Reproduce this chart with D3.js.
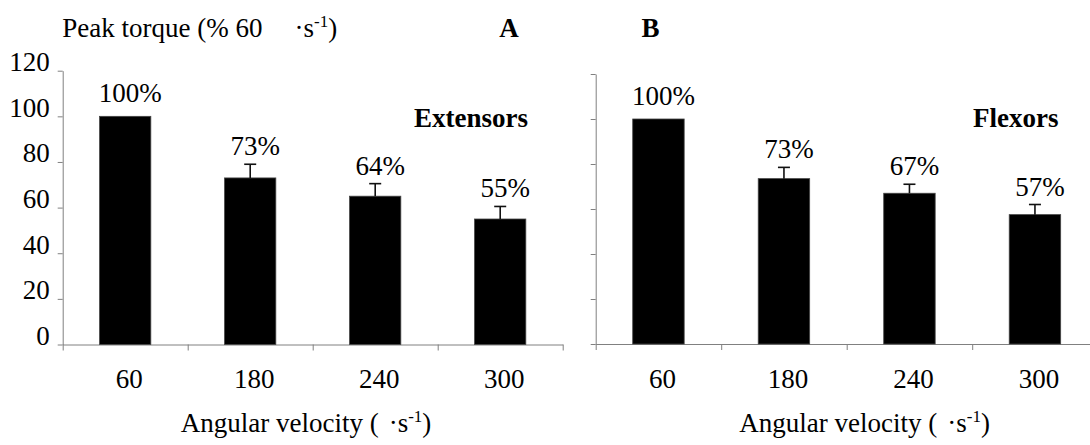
<!DOCTYPE html>
<html>
<head>
<meta charset="utf-8">
<script src="https://cdn.jsdelivr.net/npm/d3@7"></script>
<style>
  html, body { margin: 0; padding: 0; background: #fff; }
  svg text { font-family: "Liberation Serif", "DejaVu Serif", serif; }
</style>
</head>
<body>
<svg id="chart"></svg>
<script>
// data
const categories     = ["60", "180", "240", "300"];
const extensorMeans  = [100, 73, 65, 55];
const extensorSD     = [0, 6, 5.5, 5.5];
const extensorLabels = ["100%", "73%", "64%", "55%"];
const flexorMeans    = [100, 73.5, 67, 57.5];
const flexorSD       = [0, 5, 4, 4.5];
const flexorLabels   = ["100%", "73%", "67%", "57%"];
const yTicks         = [0, 20, 40, 60, 80, 100, 120];

const width = 1090, height = 445;
const fontSize = 27;
const serif = "'Liberation Serif', 'DejaVu Serif', serif";
const axisColor = "#808080";

const svg = d3.select("#chart")
  .attr("width", width)
  .attr("height", height);

const panels = [
  { letter: "A", muscle: "Extensors", means: extensorMeans, sd: extensorSD, labels: extensorLabels,
    left: 62.7, right: 562.7, top: 70.7, bottom: 344.5, showY: true,
    letterX: 509, muscleX: 528, xTitleX: 306 },
  { letter: "B", muscle: "Flexors", means: flexorMeans, sd: flexorSD, labels: flexorLabels,
    left: 595.7, right: 1097.7, top: 74, bottom: 344, showY: false,
    letterX: 650.5, muscleX: 1058.6, xTitleX: 864.6 }
];

panels.forEach(p => {
  const g = svg.append("g");

  const x = d3.scaleBand()
    .domain(categories)
    .range([p.left, p.right])
    .paddingInner(0.59)
    .paddingOuter(0.295);

  // boundaries for tick marks between categories
  const xEdge = d3.scaleLinear()
    .domain([0, categories.length])
    .range([p.left, p.right]);

  const y = d3.scaleLinear()
    .domain([0, 120])
    .range([p.bottom, p.top]);

  // y axis
  const yAxis = d3.axisLeft(y)
    .tickValues(yTicks)
    .tickSize(5)
    .tickSizeOuter(0)
    .tickPadding(8)
    .tickFormat(p.showY ? d3.format("d") : "");
  const ya = g.append("g")
    .attr("transform", `translate(${p.left},0)`)
    .call(yAxis)
    .attr("font-family", serif)
    .attr("font-size", fontSize);
  ya.selectAll("path, line").attr("stroke", axisColor);
  ya.selectAll("text")
    .attr("dy", 0)
    .attr("fill", "#000");

  // x axis tick marks at category boundaries
  const xa = g.append("g")
    .attr("transform", `translate(0,${p.bottom})`)
    .call(d3.axisBottom(xEdge).ticks(categories.length).tickSize(6).tickSizeOuter(0).tickFormat(""));
  xa.selectAll("path, line").attr("stroke", axisColor);

  // x category labels
  const xl = g.append("g")
    .attr("transform", `translate(4,${p.bottom})`)
    .call(d3.axisBottom(x).tickSize(0).tickPadding(0))
    .attr("font-family", serif)
    .attr("font-size", fontSize);
  xl.select(".domain").remove();
  xl.selectAll("text")
    .attr("y", 43.5)
    .attr("dy", 0)
    .attr("fill", "#000");

  // bars
  g.selectAll(".bar")
    .data(categories)
    .join("rect")
    .attr("class", "bar")
    .attr("x", (d) => x(d))
    .attr("width", x.bandwidth())
    .attr("y", (d, i) => y(p.means[i]))
    .attr("height", (d, i) => y(0) - y(p.means[i]))
    .attr("fill", "#000")
    .attr("stroke", "#444")
    .attr("stroke-width", 0.8);

  // error bars (upper only)
  const errs = categories.map((c, i) => ({ c, m: p.means[i], s: p.sd[i] })).filter(d => d.s > 0);
  g.selectAll(".err")
    .data(errs)
    .join("line")
    .attr("class", "err")
    .attr("x1", d => x(d.c) + x.bandwidth() / 2)
    .attr("x2", d => x(d.c) + x.bandwidth() / 2)
    .attr("y1", d => y(d.m))
    .attr("y2", d => y(d.m + d.s))
    .attr("stroke", "#111")
    .attr("stroke-width", 1.6);
  g.selectAll(".cap")
    .data(errs)
    .join("line")
    .attr("class", "cap")
    .attr("x1", d => x(d.c) + x.bandwidth() / 2 - 6)
    .attr("x2", d => x(d.c) + x.bandwidth() / 2 + 6)
    .attr("y1", d => y(d.m + d.s))
    .attr("y2", d => y(d.m + d.s))
    .attr("stroke", "#111")
    .attr("stroke-width", 1.6);

  // percentage labels
  g.selectAll(".pct")
    .data(categories)
    .join("text")
    .attr("class", "pct")
    .attr("x", (d) => x(d) + x.bandwidth() / 2 + 5)
    .attr("y", (d, i) => y(p.means[i] + p.sd[i]) - (p.sd[i] > 0 ? 9 : 14))
    .attr("text-anchor", "middle")
    .style("font-size", fontSize + "px")
    .text((d, i) => p.labels[i]);

  // panel letter
  g.append("text")
    .attr("x", p.letterX)
    .attr("y", 37)
    .attr("text-anchor", "middle")
    .style("font-size", fontSize + "px")
    .style("font-weight", "bold")
    .text(p.letter);

  // muscle group
  g.append("text")
    .attr("x", p.muscleX)
    .attr("y", 126.5)
    .attr("text-anchor", "end")
    .style("font-size", fontSize + "px")
    .style("font-weight", "bold")
    .text(p.muscle);

  // x title
  const xt = g.append("text")
    .attr("x", p.xTitleX)
    .attr("y", 432)
    .attr("text-anchor", "middle")
    .style("font-size", fontSize + "px");
  xt.append("tspan").text("Angular velocity (");
  xt.append("tspan").attr("dx", 10).text("·s");
  xt.append("tspan").attr("dy", -10).style("font-size", "17px").text("-1");
  xt.append("tspan").attr("dy", 10).text(")");
});

// y title
const yt = svg.append("text")
  .attr("x", 62.3)
  .attr("y", 36.7)
  .style("font-size", fontSize + "px");
yt.append("tspan").text("Peak torque (% 60");
yt.append("tspan").attr("dx", 32).text("·s");
yt.append("tspan").attr("dy", -10).style("font-size", "17px").text("-1");
yt.append("tspan").attr("dy", 10).text(")");
</script>
</body>
</html>
